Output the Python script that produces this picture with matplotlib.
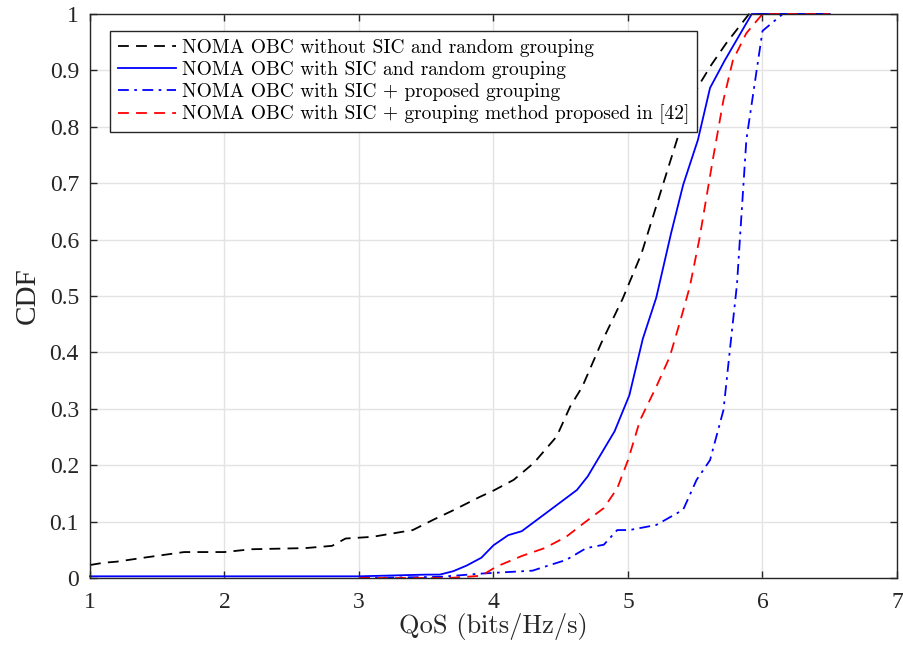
import matplotlib
matplotlib.use("Agg")
import matplotlib.pyplot as plt

# Data
x_nosic = [1.0, 1.1, 1.2, 1.4, 1.7, 2.0, 2.2, 2.6, 2.8, 2.9, 3.1, 3.4, 3.55, 3.7, 3.9, 4.0, 4.15, 4.3, 4.47, 4.57, 4.66, 4.8, 4.96, 5.1, 5.25, 5.38, 5.52, 5.62, 5.73, 5.9, 6.5]
y_nosic = [0.023, 0.027, 0.029, 0.036, 0.046, 0.046, 0.051, 0.053, 0.057, 0.070, 0.073, 0.085, 0.103, 0.12, 0.144, 0.155, 0.174, 0.204, 0.251, 0.304, 0.339, 0.416, 0.495, 0.575, 0.69, 0.789, 0.871, 0.91, 0.948, 1.0, 1.0]

x_sic = [1.0, 3.0, 3.5, 3.6, 3.7, 3.8, 3.91, 4.0, 4.11, 4.21, 4.39, 4.62, 4.70, 4.90, 5.01, 5.11, 5.21, 5.32, 5.41, 5.52, 5.61, 5.72, 5.92, 6.5]
y_sic = [0.003, 0.003, 0.006, 0.006, 0.012, 0.022, 0.036, 0.058, 0.076, 0.083, 0.115, 0.156, 0.18, 0.26, 0.324, 0.424, 0.497, 0.611, 0.697, 0.777, 0.869, 0.918, 1.0, 1.0]

x_prop = [3.0, 3.6, 3.92, 4.29, 4.42, 4.54, 4.69, 4.82, 4.92, 5.01, 5.21, 5.41, 5.51, 5.61, 5.71, 5.76, 5.81, 5.88, 6.0, 6.15, 6.5]
y_prop = [0.0, 0.002, 0.008, 0.013, 0.023, 0.032, 0.053, 0.059, 0.085, 0.085, 0.094, 0.121, 0.174, 0.209, 0.298, 0.41, 0.52, 0.777, 0.97, 1.0, 1.0]

x_ref = [3.0, 3.67, 3.91, 4.02, 4.21, 4.38, 4.54, 4.67, 4.82, 4.92, 5.0, 5.09, 5.21, 5.31, 5.39, 5.46, 5.53, 5.63, 5.71, 5.78, 5.88, 6.0, 6.5]
y_ref = [0.0, 0.0, 0.004, 0.02, 0.039, 0.053, 0.073, 0.097, 0.124, 0.159, 0.209, 0.28, 0.339, 0.392, 0.457, 0.517, 0.6, 0.741, 0.848, 0.918, 0.966, 1.0, 1.0]

labels = ["NOMA OBC without SIC and random grouping",
          "NOMA OBC with SIC and random grouping",
          "NOMA OBC with SIC + proposed grouping",
          "NOMA OBC with SIC + grouping method proposed in [42]"]

xticks = [1, 2, 3, 4, 5, 6, 7]
yticks = [0, 0.1, 0.2, 0.3, 0.4, 0.5, 0.6, 0.7, 0.8, 0.9, 1]
ytick_labels = ["0", "0.1", "0.2", "0.3", "0.4", "0.5", "0.6", "0.7", "0.8", "0.9", "1"]

fig = plt.figure(figsize=(9.04, 6.49), dpi=100)
ax = fig.add_axes([90/904, 1-578/649, 807/904, 564/649])

lw = 1.3
ax.plot(x_nosic, y_nosic, color='black', lw=lw, dashes=(6, 4), label=labels[0], clip_on=False)
ax.plot(x_sic, y_sic, color='blue', lw=lw, ls='-', label=labels[1], clip_on=False)
ax.plot(x_prop, y_prop, color='blue', lw=lw, dashes=(6, 3, 1.5, 3), label=labels[2], clip_on=False)
ax.plot(x_ref, y_ref, color='red', lw=lw, dashes=(6, 4), label=labels[3], clip_on=False)

ax.set_xlim(1, 7)
ax.set_ylim(0, 1)
ax.set_xticks(xticks)
ax.set_yticks(yticks)
ax.set_xticklabels([str(t) for t in xticks], fontfamily='Liberation Serif', fontsize=17)
ax.set_yticklabels(ytick_labels, fontfamily='Liberation Serif', fontsize=17)
ax.grid(True, color='#e3e3e3', lw=1.0)
ax.set_axisbelow(True)
ax.tick_params(direction='in', top=True, right=True, length=5, width=1.0, colors='#262626', pad=8)
ax.tick_params(axis='x', pad=10)
for s in ax.spines.values():
    s.set_color('#262626')
    s.set_linewidth(1.0)

ax.set_xlabel("QoS (bits/Hz/s)", fontfamily='cmr10', fontsize=19, color='#262626', labelpad=0)
ax.set_ylabel("CDF", fontfamily='Liberation Serif', fontsize=21, color='#262626', labelpad=6)

leg = ax.legend(loc='upper left', bbox_to_anchor=((110-90)/807, (578-31)/564), borderaxespad=0,
                prop={'family': 'cmr10', 'size': 14}, fancybox=False, framealpha=1,
                edgecolor='#262626', handlelength=3.0, handletextpad=0.3, labelspacing=0.2,
                borderpad=0.4)
leg.get_frame().set_linewidth(1.0)

fig.savefig("out.png", dpi=100)
